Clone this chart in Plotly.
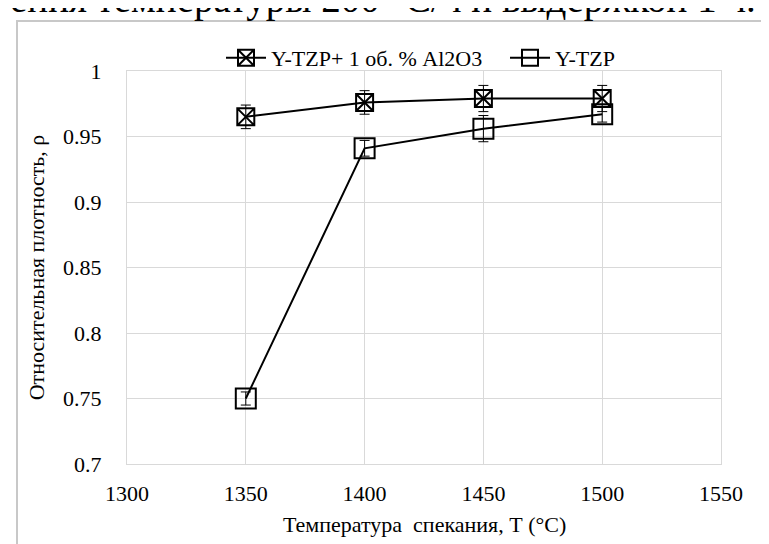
import plotly.graph_objects as go

# ---- data ----
temps = [1350, 1400, 1450, 1500]
rho_al = [0.965, 0.976, 0.979, 0.979]
err_al = [0.009, 0.009, 0.010, 0.010]
rho_ytzp = [0.750, 0.941, 0.956, 0.967]
err_ytzp = [0.005, 0.006, 0.010, 0.006]
name_al = "Y-TZP+ 1 об. % Al2O3"
name_ytzp = "Y-TZP"
x_title = "Температура  спекания, Т (°С)"
y_title = "Относительная плотность, ρ"
caption = "ения температуры 200 °С/ч и выдержкой 1 ч."

W, H = 769, 544
L, R, T, B = 119, 713, 63, 456  # plot area in px
FONT = "Liberation Serif, Times New Roman, serif"

def px_x(p):
    return (p - L) / (R - L)

def px_y(p):
    return (B - p) / (B - T)

def f(size):
    return dict(family=FONT, size=size, color="black")

fig = go.Figure()
fig.add_trace(go.Scatter(
    x=temps, y=rho_al, name=name_al, mode="lines+markers",
    line=dict(color="black", width=2),
    marker=dict(symbol="square-x-open", size=17, color="black", line=dict(width=2, color="black")),
    error_y=dict(type="data", array=err_al, color="black", thickness=1, width=5),
))
fig.add_trace(go.Scatter(
    x=temps, y=rho_ytzp, name=name_ytzp, mode="lines+markers",
    line=dict(color="black", width=2),
    marker=dict(symbol="square-open", size=20, color="black", line=dict(width=2, color="black")),
    error_y=dict(type="data", array=err_ytzp, color="black", thickness=1, width=5),
))

grid = "#d9d9d9"
fig.update_layout(
    template="none",
    width=W, height=H,
    margin=dict(l=L, r=W - R, t=T, b=H - B, pad=0, autoexpand=False),
    paper_bgcolor="white", plot_bgcolor="white",
    font=f(22),
    showlegend=True,
    legend=dict(orientation="h", x=px_x(497), xanchor="center", y=px_y(50), yanchor="middle",
                font=f(22), bgcolor="rgba(0,0,0,0)", itemwidth=40,
                entrywidthmode="pixels", entrywidth=229),
    xaxis=dict(range=[1300, 1550], dtick=50, tick0=1300, showgrid=True, gridcolor=grid, gridwidth=1.3,
               showline=True, linecolor=grid, linewidth=1.3, mirror=True, zeroline=False,
               ticks="", ticklabelstandoff=9, tickfont=f(22), automargin=False),
    yaxis=dict(range=[0.7, 1.0], dtick=0.05, tick0=0.7, showgrid=True, gridcolor=grid, gridwidth=1.3,
               showline=True, linecolor=grid, linewidth=1.3, mirror=True, zeroline=False,
               ticks="", ticklabelstandoff=20, tickfont=f(22), automargin=False,
               title=dict(text=y_title, font=f(22), standoff=12)),
    shapes=[dict(type="rect", xref="paper", yref="paper",
                 x0=px_x(9), x1=px_x(W + 5), y0=px_y(H + 5), y1=px_y(13),
                 line=dict(color="#c8c8c8", width=2), fillcolor="rgba(0,0,0,0)", layer="below")],
    annotations=[
        dict(text=caption, xref="paper", yref="paper", x=px_x(750), xanchor="right",
             y=px_y(-9), yanchor="middle", showarrow=False, font=f(39)),
        dict(text=x_title, xref="paper", yref="paper", x=0.5, xanchor="center",
             y=px_y(516), yanchor="middle", showarrow=False, font=f(22)),
    ],
)

fig.write_html("out.html")
